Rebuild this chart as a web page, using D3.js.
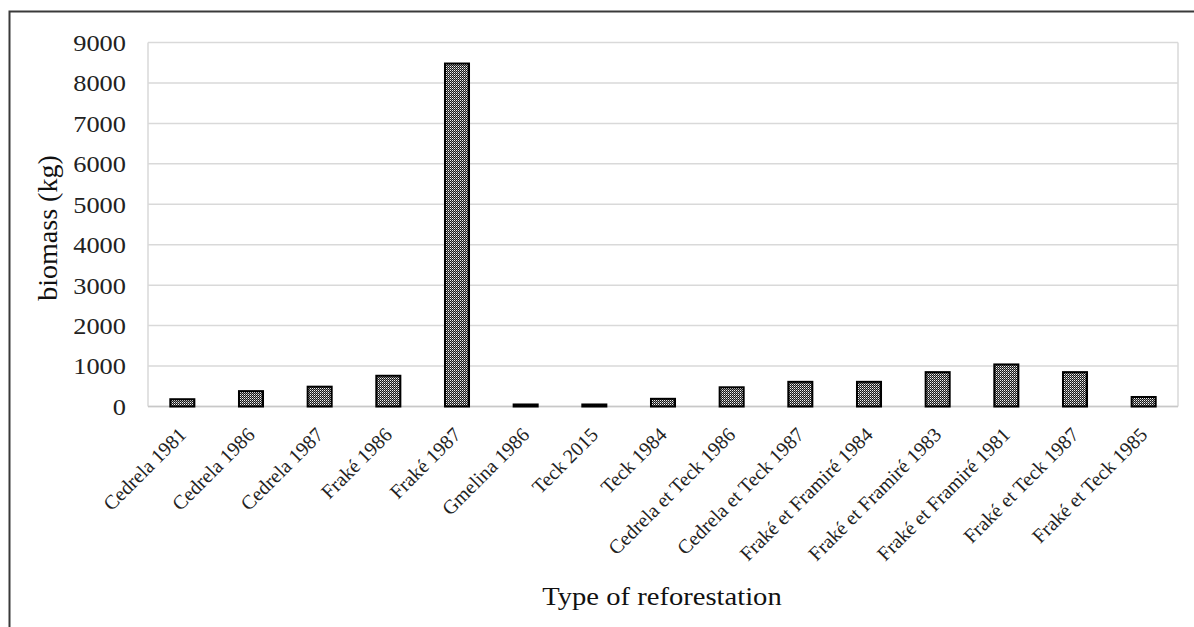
<!DOCTYPE html>
<html>
<head>
<meta charset="utf-8">
<script src="https://cdn.jsdelivr.net/npm/d3@7"></script>
<style>
  html, body { margin: 0; padding: 0; background: #fff; }
  svg { display: block; }
</style>
</head>
<body>
<svg id="chart" width="1194" height="627"></svg>
<script>
const categories = [
  "Cedrela 1981", "Cedrela 1986", "Cedrela 1987", "Fraké 1986", "Fraké 1987",
  "Gmelina 1986", "Teck 2015", "Teck 1984", "Cedrela et Teck 1986", "Cedrela et Teck 1987",
  "Fraké et Framiré 1984", "Fraké et Framiré 1983", "Fraké et Framiré 1981", "Fraké et Teck 1987", "Fraké et Teck 1985"
];
const biomass = [180, 380, 490, 760, 8480, 50, 50, 190, 475, 610, 610, 850, 1040, 850, 235];
const yTicks = [0, 1000, 2000, 3000, 4000, 5000, 6000, 7000, 8000, 9000];
const xTitle = "Type of reforestation";
const yTitle = "biomass  (kg)";

const svg = d3.select("#chart");
const serif = "'Liberation Serif', 'Times New Roman', serif";

// outer frame
svg.append("rect")
  .attr("x", 9.5).attr("y", 11.5).attr("width", 1400).attr("height", 800)
  .attr("fill", "#fff").attr("stroke", "#3a3a3a").attr("stroke-width", 2);

// hatch pattern
const defs = svg.append("defs");
const pat = defs.append("pattern")
  .attr("id", "dots").attr("patternUnits", "userSpaceOnUse")
  .attr("width", 2).attr("height", 2);
pat.append("rect").attr("width", 2).attr("height", 2).attr("fill", "#1a1a1a");
pat.append("rect").attr("x", 0).attr("y", 0).attr("width", 1).attr("height", 1).attr("fill", "#f2f2f2");
pat.append("rect").attr("x", 1).attr("y", 1).attr("width", 1).attr("height", 1).attr("fill", "#8a8a8a");

const pLeft = 148, pRight = 1178, pTop = 42.5, pBottom = 406.5;

const x = d3.scaleBand().domain(categories).range([pLeft, pRight]).paddingInner(0.65).paddingOuter(0.325);
const y = d3.scaleLinear().domain([0, 9000]).range([pBottom, pTop]);

// gridlines
svg.append("g").selectAll("line").data(yTicks).join("line")
  .attr("x1", pLeft).attr("x2", pRight)
  .attr("y1", d => y(d)).attr("y2", d => y(d))
  .attr("stroke", "#d9d9d9").attr("stroke-width", 1.5);
// plot area side borders
svg.append("line").attr("x1", pLeft).attr("x2", pLeft).attr("y1", pTop).attr("y2", pBottom)
  .attr("stroke", "#d9d9d9").attr("stroke-width", 1.5);
svg.append("line").attr("x1", pRight).attr("x2", pRight).attr("y1", pTop).attr("y2", pBottom)
  .attr("stroke", "#d9d9d9").attr("stroke-width", 1.5);
// baseline
svg.append("line").attr("x1", pLeft).attr("x2", pRight).attr("y1", y(0)).attr("y2", y(0))
  .attr("stroke", "#c8c8c8").attr("stroke-width", 1.5);

// bars
svg.append("g").selectAll("rect").data(biomass).join("rect")
  .attr("x", (d, i) => x(categories[i]))
  .attr("width", x.bandwidth())
  .attr("y", d => y(d))
  .attr("height", d => y(0) - y(d))
  .attr("fill", "url(#dots)")
  .attr("stroke", "#000").attr("stroke-width", 2);

// y tick labels
svg.append("g").selectAll("text").data(yTicks).join("text")
  .attr("transform", d => `translate(126,${y(d)}) scale(1.1,1)`)
  .attr("text-anchor", "end").attr("dy", "0.35em")
  .attr("font-family", serif).attr("font-size", 24).attr("fill", "#222")
  .text(d => d);

// x category labels
svg.append("g").selectAll("text").data(categories).join("text")
  .attr("transform", d => `translate(${x(d) + x.bandwidth() / 2 + 5},436) rotate(-45)`)
  .attr("text-anchor", "end")
  .attr("font-family", serif).attr("font-size", 20).attr("fill", "#222")
  .text(d => d);

// axis titles
svg.append("text")
  .attr("transform", "translate(662,605) scale(1.1,1)")
  .attr("text-anchor", "middle")
  .attr("font-family", serif).attr("font-size", 26).attr("fill", "#111")
  .text(xTitle);

svg.append("text")
  .attr("transform", "translate(57,228) rotate(-90)")
  .attr("text-anchor", "middle")
  .attr("font-family", serif).attr("font-size", 28).attr("fill", "#111")
  .text(yTitle);
</script>
</body>
</html>
